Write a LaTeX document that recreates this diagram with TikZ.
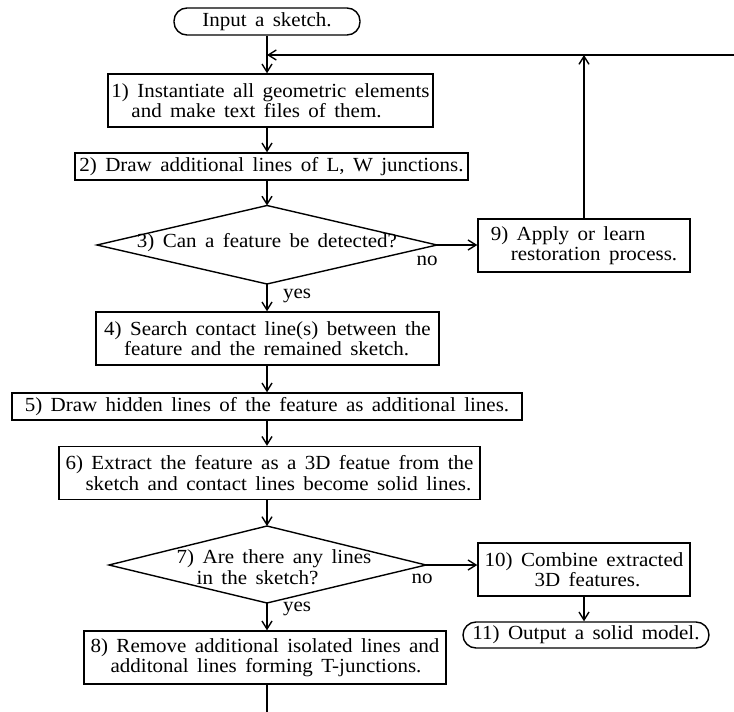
\documentclass[tikz,border=0pt]{standalone}
\usepackage{fontspec}
\setmainfont[FakeStretch=1.05,WordSpace=1.6]{Liberation Serif}
\usetikzlibrary{arrows.meta}
\begin{document}
\begin{tikzpicture}[x=0.5pt,y=-0.5pt,line width=0.7pt,
  txt/.style={font=\fontsize{10}{10.2}\selectfont},
  box/.style={draw,rectangle,inner sep=0pt,align=left,txt},
  term/.style={draw,rectangle,rounded corners=6.5pt,inner sep=0pt,txt},
  lbl/.style={inner sep=0pt,align=left,txt},
  arr/.style={-{Straight Barb[length=4pt,width=5pt]}}]
\useasboundingbox (0,0) rectangle (734,712);
\coordinate (ax) at (267,0);
\coordinate (loopR) at (734,55);
\coordinate (bot) at (267,712);
% nodes
\node[term,minimum width=93pt,minimum height=13.5pt] (start) at (267,21.5) {Input a sketch.};
\node[box,minimum width=162.5pt,minimum height=26.5pt] (b1) at (270.5,100.5)
  {1) Instantiate all geometric elements\\\hspace*{1em}and make text files of them.};
\node[box,minimum width=196.5pt,minimum height=13.5pt] (b2) at (271.5,166.5)
  {2) Draw additional lines of L, W junctions.};
% diamond 3
\coordinate (d3n) at (267,205.5);
\coordinate (d3e) at (437,245);
\coordinate (d3s) at (267,284);
\coordinate (d3w) at (97,245);
\draw (d3n) -- (d3e) -- (d3s) -- (d3w) -- cycle;
\node[lbl] (d3) at (267,243) {3) Can a feature be detected?};
\node[box,minimum width=106pt,minimum height=26.5pt] (b9) at (584,245.5)
  {9) Apply or learn\\\hspace*{1em}restoration process.};
\node[box,minimum width=171.5pt,minimum height=26.5pt] (b4) at (267.5,338.5)
  {4) Search contact line(s) between the\\\hspace*{1em}feature and the remained sketch.};
\node[box,minimum width=255pt,minimum height=13.5pt] (b5) at (267,406.5)
  {5) Draw hidden lines of the feature as additional lines.};
\node[box,minimum width=210.5pt,minimum height=26.5pt] (b6) at (269.5,473)
  {6) Extract the feature as a 3D featue from the\\\hspace*{1em}sketch and contact lines become solid lines.};
% diamond 7
\coordinate (d7n) at (267,526);
\coordinate (d7e) at (426,565);
\coordinate (d7s) at (267,603);
\coordinate (d7w) at (109,565);
\draw (d7n) -- (d7e) -- (d7s) -- (d7w) -- cycle;
\node[lbl] (d7) at (274,567) {7) Are there any lines\\\hspace*{1em}in the sketch?};
\node[box,minimum width=106pt,minimum height=26.5pt] (b10) at (584,569.5)
  {10) Combine extracted\\\hspace*{2.5em}3D features.};
\node[term,minimum width=123pt,minimum height=13pt] (t11) at (586,635) {11) Output a solid model.};
\node[box,minimum width=181pt,minimum height=26.5pt] (b8) at (265,657.5)
  {8) Remove additional isolated lines and\\\hspace*{1em}additonal lines forming T-junctions.};
% labels
\node[lbl] (no1) at (427,261) {no};
\node[lbl] (yes1) at (297,296) {yes};
\node[lbl] (no2) at (422,579) {no};
\node[lbl] (yes2) at (297,609) {yes};
% connectors
\draw[arr] (start.south) -- (start.south |- b1.north);
\draw[arr] (b1.south -| ax) -- (b2.north -| ax);
\draw[arr] (b2.south -| ax) -- (d3n);
\draw[arr] (d3e) -- (d3e -| b9.west);
\draw[arr] (d3s) -- (d3s |- b4.north);
\draw[arr] (b4.south -| ax) -- (b5.north -| ax);
\draw[arr] (b5.south -| ax) -- (b6.north -| ax);
\draw[arr] (b6.south -| ax) -- (d7n);
\draw[arr] (d7e) -- (d7e -| b10.west);
\draw[arr] (d7s) -- (d7s |- b8.north);
\draw[arr] (b10.south) -- (b10.south |- t11.north);
\draw (b8.south -| ax) -- (bot);
\draw[arr] (b9.north) -- (b9.north |- loopR);
\draw[arr] (loopR) -- (loopR -| ax);
\end{tikzpicture}
\end{document}
